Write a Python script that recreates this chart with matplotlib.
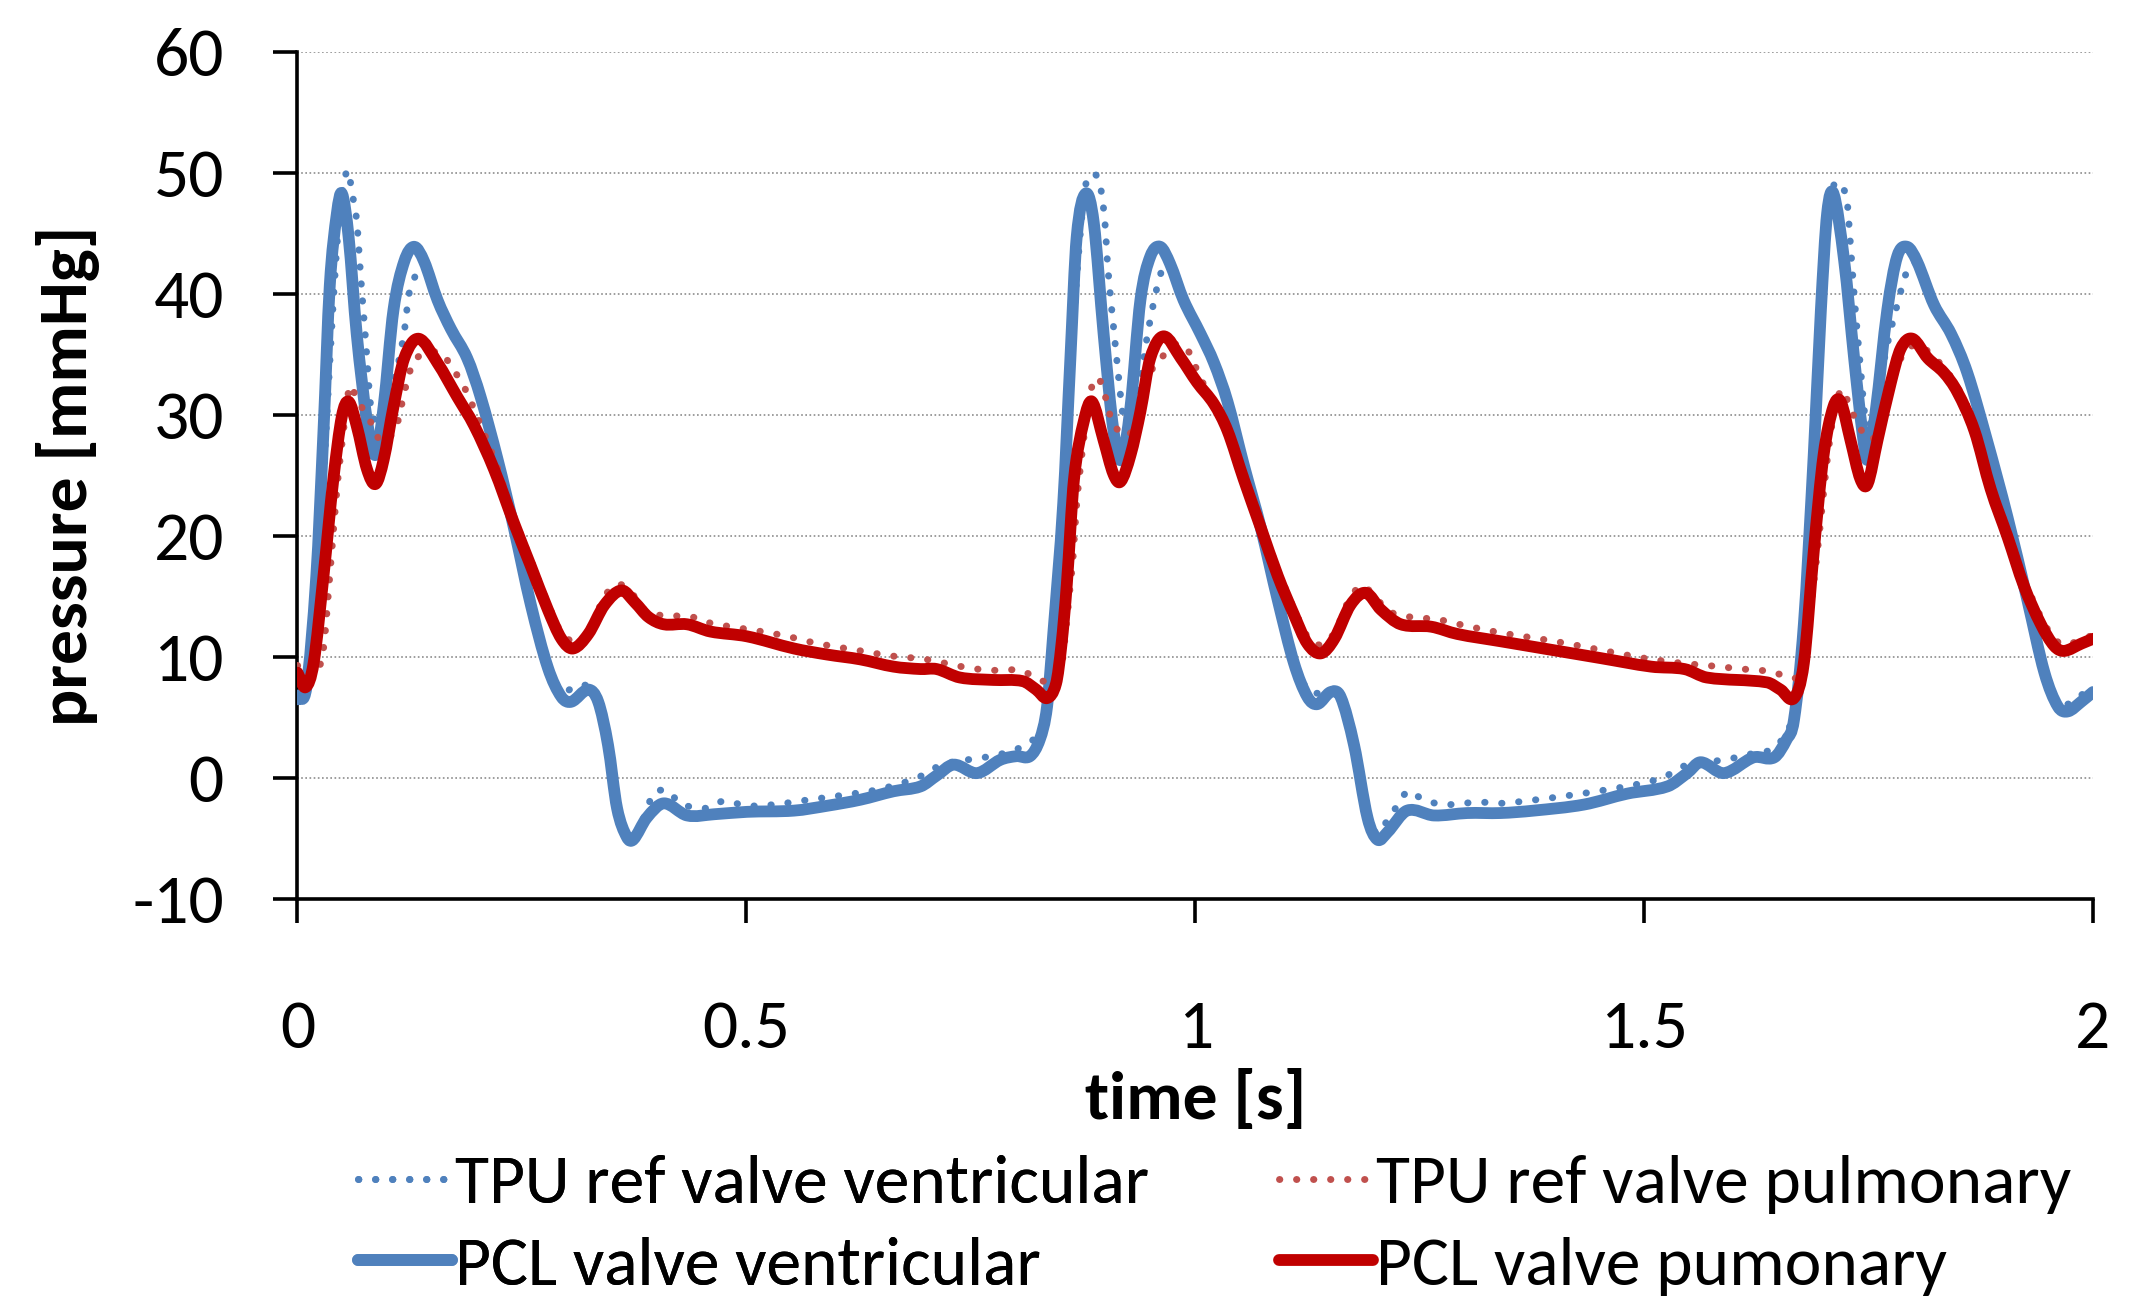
import matplotlib
matplotlib.use("Agg")
import matplotlib.pyplot as plt
from matplotlib import font_manager
from matplotlib.path import Path
from matplotlib.patches import PathPatch
from matplotlib.lines import Line2D

# pick a narrow, Calibri-like face if there is one
available = {f.name for f in font_manager.fontManager.ttflist}
for fam in ["Carlito", "Liberation Sans Narrow", "Lato"]:
    if fam in available:
        font = fam
        break
else:
    font = "DejaVu Sans"
plt.rcParams["font.family"] = [font, "DejaVu Sans"]
plt.rcParams["axes.unicode_minus"] = False

# PCL valve ventricular (blue solid)
t_pcl_v = [0.000, 0.010, 0.021, 0.029, 0.036, 0.044, 0.0495, 0.057, 0.066, 0.0775,
           0.087, 0.096, 0.107, 0.119, 0.130, 0.141, 0.156, 0.171, 0.189, 0.204,
           0.223, 0.241, 0.260, 0.279, 0.294, 0.305, 0.324, 0.335, 0.346, 0.356,
           0.367, 0.374, 0.389, 0.408, 0.434, 0.464, 0.501, 0.553, 0.590, 0.627,
           0.664, 0.694, 0.712, 0.731, 0.757, 0.783, 0.801, 0.816, 0.827, 0.835,
           0.842, 0.853, 0.861, 0.868, 0.878, 0.887, 0.898, 0.909, 0.918, 0.928,
           0.939, 0.950, 0.961, 0.972, 0.987, 1.006, 1.021, 1.036, 1.054, 1.073,
           1.092, 1.110, 1.125, 1.136, 1.151, 1.162, 1.177, 1.192, 1.203, 1.214,
           1.236, 1.266, 1.303, 1.340, 1.377, 1.433, 1.481, 1.526, 1.548, 1.563,
           1.589, 1.622, 1.645, 1.659, 1.667, 1.678, 1.689, 1.697, 1.704, 1.711,
           1.723, 1.734, 1.743, 1.749, 1.758, 1.771, 1.782, 1.793, 1.804, 1.823,
           1.842, 1.860, 1.882, 1.905, 1.927, 1.946, 1.961, 1.972, 1.987, 2.000]
p_pcl_v = [6.5, 7.5, 16.7, 28.7, 40.7, 46.7, 48.3, 44.7, 36.7, 29.5,
           26.7, 30.7, 38.7, 42.7, 43.9, 42.7, 39.5, 37.1, 34.7, 31.5,
           26.3, 20.7, 14.3, 9.1, 6.7, 6.3, 7.3, 6.3, 2.7, -2.5,
           -4.9, -5.1, -3.3, -2.1, -3.1, -3.0, -2.8, -2.7, -2.3, -1.8,
           -1.1, -0.7, 0.2, 1.1, 0.4, 1.5, 1.8, 1.8, 3.2, 5.9,
           12.0, 22.7, 34.7, 44.7, 48.3, 45.9, 36.7, 28.7, 26.3, 30.7,
           39.5, 43.1, 43.9, 42.5, 39.5, 36.7, 34.3, 31.1, 25.9, 20.7,
           14.7, 9.5, 6.7, 6.1, 7.1, 6.7, 2.7, -3.3, -5.1, -4.5,
           -2.7, -3.1, -2.9, -2.9, -2.7, -2.2, -1.3, -0.7, 0.4, 1.3,
           0.4, 1.7, 1.7, 3.2, 4.8, 12.7, 26.7, 38.7, 46.7, 48.3,
           42.7, 34.7, 28.7, 26.3, 30.3, 38.7, 43.1, 43.9, 42.7, 39.1,
           36.7, 33.5, 27.9, 21.5, 14.7, 8.7, 5.9, 5.5, 6.3, 7.1]

# PCL valve pumonary (red solid)
t_pcl_p = [0.000, 0.009, 0.018, 0.029, 0.040, 0.0495, 0.057, 0.066, 0.0775, 0.087,
           0.096, 0.107, 0.119, 0.135, 0.156, 0.178, 0.197, 0.219, 0.241, 0.260,
           0.279, 0.294, 0.307, 0.324, 0.342, 0.361, 0.376, 0.391, 0.408, 0.434,
           0.460, 0.501, 0.553, 0.590, 0.627, 0.664, 0.694, 0.712, 0.738, 0.775,
           0.808, 0.823, 0.835, 0.845, 0.851, 0.857, 0.865, 0.876, 0.885, 0.898,
           0.909, 0.917, 0.928, 0.939, 0.950, 0.965, 0.984, 1.002, 1.021, 1.036,
           1.054, 1.073, 1.092, 1.110, 1.125, 1.140, 1.155, 1.173, 1.190, 1.207,
           1.229, 1.263, 1.292, 1.340, 1.396, 1.452, 1.508, 1.545, 1.570, 1.637,
           1.652, 1.667, 1.678, 1.689, 1.700, 1.711, 1.719, 1.730, 1.741, 1.749,
           1.760, 1.775, 1.786, 1.799, 1.816, 1.834, 1.849, 1.868, 1.886, 1.905,
           1.923, 1.942, 1.957, 1.968, 1.987, 2.000]
p_pcl_p = [8.7, 7.5, 9.5, 16.7, 24.7, 29.9, 31.1, 29.1, 25.5, 24.3,
           26.3, 30.7, 34.7, 36.3, 34.3, 31.5, 29.1, 25.5, 21.1, 17.5,
           13.9, 11.5, 10.7, 11.9, 14.3, 15.5, 14.5, 13.3, 12.7, 12.7,
           12.1, 11.7, 10.7, 10.2, 9.8, 9.2, 9.0, 9.0, 8.3, 8.1,
           8.0, 7.3, 6.6, 7.8, 11.0, 16.0, 24.7, 29.5, 31.1, 27.9,
           25.1, 24.5, 26.7, 30.3, 34.7, 36.5, 34.7, 32.7, 30.9, 28.7,
           24.7, 20.7, 16.7, 13.5, 11.1, 10.3, 11.5, 14.3, 15.3, 13.9,
           12.7, 12.5, 11.9, 11.3, 10.6, 9.9, 9.2, 9.0, 8.3, 7.9,
           7.3, 6.6, 9.5, 18.7, 26.7, 30.7, 31.1, 27.9, 24.7, 24.3,
           27.9, 32.7, 35.5, 36.3, 34.7, 33.5, 31.9, 28.7, 23.9, 19.9,
           15.9, 12.7, 10.9, 10.5, 11.1, 11.5]

# TPU ref valve ventricular (blue dotted)
t_tpu_v = [0.000, 0.012, 0.022, 0.030, 0.038, 0.045, 0.051, 0.057, 0.060, 0.066,
           0.069, 0.072, 0.075, 0.078, 0.081, 0.085, 0.095, 0.105, 0.113, 0.119,
           0.124, 0.129, 0.138, 0.148, 0.158, 0.171, 0.189, 0.204, 0.223, 0.241,
           0.260, 0.279, 0.294, 0.307, 0.324, 0.335, 0.346, 0.356, 0.367, 0.378,
           0.389, 0.396, 0.413, 0.426, 0.456, 0.475, 0.500, 0.531, 0.570, 0.610,
           0.650, 0.690, 0.715, 0.735, 0.757, 0.785, 0.805, 0.820, 0.830, 0.840,
           0.848, 0.856, 0.864, 0.872, 0.878, 0.884, 0.893, 0.899, 0.903, 0.909,
           0.915, 0.920, 0.928, 0.938, 0.945, 0.950, 0.958, 0.965, 0.975, 0.987,
           1.006, 1.021, 1.036, 1.054, 1.073, 1.092, 1.110, 1.125, 1.136, 1.151,
           1.162, 1.177, 1.192, 1.203, 1.214, 1.225, 1.237, 1.252, 1.275, 1.298,
           1.317, 1.340, 1.380, 1.430, 1.480, 1.520, 1.545, 1.565, 1.590, 1.620,
           1.640, 1.655, 1.665, 1.675, 1.683, 1.691, 1.699, 1.706, 1.713, 1.719,
           1.726, 1.730, 1.735, 1.741, 1.746, 1.752, 1.760, 1.770, 1.782, 1.793,
           1.803, 1.823, 1.842, 1.860, 1.882, 1.905, 1.927, 1.946, 1.961, 1.975,
           1.990, 2.000]
p_tpu_v = [7.0, 8.0, 15.0, 26.0, 37.0, 45.0, 49.0, 50.2, 48.7, 46.1,
           43.0, 39.9, 37.1, 34.1, 31.1, 29.7, 30.0, 32.0, 34.5, 36.9,
           39.9, 41.1, 42.3, 41.5, 39.3, 37.1, 34.5, 31.5, 26.5, 21.0,
           14.5, 9.0, 7.0, 7.5, 7.6, 6.5, 2.9, -2.3, -4.6, -4.5,
           -2.7, -1.3, -1.1, -2.1, -2.5, -1.9, -2.3, -2.2, -1.8, -1.4,
           -0.9, 0.0, 1.0, 1.4, 1.6, 2.0, 2.5, 3.2, 4.5, 8.0,
           15.0, 26.0, 37.0, 45.0, 49.0, 49.9, 49.3, 46.3, 41.9, 37.3,
           32.9, 29.8, 29.5, 32.5, 35.8, 37.9, 40.7, 42.3, 42.3, 39.7,
           36.7, 34.3, 31.3, 26.2, 21.0, 15.0, 9.7, 7.3, 7.0, 7.3,
           7.0, 3.0, -3.0, -4.6, -3.5, -2.3, -1.1, -1.7, -2.2, -2.1,
           -2.0, -2.1, -1.8, -1.3, -0.7, 0.0, 1.0, 1.3, 1.5, 2.0,
           2.3, 3.3, 5.0, 10.0, 20.0, 32.0, 42.0, 47.5, 49.2, 49.0,
           47.7, 44.0, 39.0, 34.0, 30.0, 29.3, 31.5, 35.5, 39.1, 41.9,
           42.5, 39.1, 36.7, 33.5, 28.0, 21.7, 15.0, 9.0, 6.2, 6.2,
           7.0, 7.3]

# TPU ref valve pulmonary (red dotted)
t_tpu_p = [0.000, 0.010, 0.021, 0.029, 0.036, 0.044, 0.050, 0.058, 0.066, 0.081,
           0.088, 0.098, 0.106, 0.112, 0.118, 0.124, 0.130, 0.144, 0.161, 0.172,
           0.183, 0.192, 0.205, 0.222, 0.241, 0.260, 0.279, 0.294, 0.307, 0.318,
           0.330, 0.342, 0.356, 0.370, 0.385, 0.400, 0.420, 0.440, 0.460, 0.500,
           0.540, 0.580, 0.620, 0.660, 0.700, 0.740, 0.770, 0.805, 0.822, 0.832,
           0.845, 0.851, 0.856, 0.860, 0.864, 0.868, 0.875, 0.882, 0.891, 0.900,
           0.907, 0.915, 0.925, 0.935, 0.942, 0.950, 0.960, 0.972, 0.982, 0.994,
           1.002, 1.011, 1.025, 1.040, 1.054, 1.073, 1.092, 1.110, 1.125, 1.140,
           1.155, 1.170, 1.185, 1.200, 1.215, 1.240, 1.270, 1.300, 1.340, 1.400,
           1.450, 1.500, 1.540, 1.570, 1.610, 1.640, 1.660, 1.672, 1.680, 1.688,
           1.695, 1.702, 1.710, 1.720, 1.730, 1.740, 1.750, 1.760, 1.770, 1.780,
           1.790, 1.805, 1.820, 1.835, 1.850, 1.868, 1.886, 1.905, 1.923, 1.942,
           1.957, 1.970, 1.985, 2.000]
p_tpu_p = [9.3, 8.5, 8.7, 10.7, 16.7, 23.9, 27.9, 32.3, 31.3, 29.5,
           28.3, 27.8, 28.5, 29.5, 31.5, 33.3, 34.5, 35.1, 35.1, 33.9,
           32.7, 31.3, 29.0, 25.8, 21.6, 18.0, 14.4, 12.0, 11.3, 11.5,
           13.0, 15.0, 16.0, 15.5, 14.0, 13.5, 13.4, 13.3, 12.8, 12.3,
           11.8, 11.1, 10.6, 10.1, 9.8, 9.2, 8.9, 8.9, 8.3, 8.0,
           8.5, 9.2, 12.3, 15.3, 18.3, 22.7, 27.5, 31.5, 33.1, 31.5,
           29.5, 28.7, 28.3, 29.5, 31.5, 33.5, 34.5, 35.5, 35.9, 35.1,
           33.7, 32.3, 30.5, 27.8, 25.3, 21.2, 17.2, 14.0, 11.7, 11.0,
           12.0, 14.5, 15.9, 15.0, 13.8, 13.3, 13.1, 12.6, 12.0, 11.3,
           10.6, 9.9, 9.5, 9.3, 9.0, 8.8, 8.4, 8.5, 11.0, 15.5,
           20.0, 25.0, 29.5, 32.1, 30.5, 29.0, 28.0, 28.5, 31.0, 33.5,
           35.2, 35.8, 35.0, 33.8, 32.2, 29.2, 24.5, 20.5, 16.5, 13.3,
           11.5, 11.0, 11.4, 11.8]

x_ticks = [0, 0.5, 1, 1.5, 2]
x_tick_labels = ["0", "0.5", "1", "1.5", "2"]
y_ticks = [-10, 0, 10, 20, 30, 40, 50, 60]

blue = "#4F81BD"
red = "#C00000"
red_dot = "#C0504D"
dots = (0, (0.05, 2.4))


def smooth_path(t, p):
    # Excel-style smoothed line: cubic Bezier through every data point
    n = len(t)
    slope = []
    for i in range(n):
        a, b = max(i - 1, 0), min(i + 1, n - 1)
        slope.append((p[b] - p[a]) / (t[b] - t[a]))
    verts = [(t[0], p[0])]
    codes = [Path.MOVETO]
    for i in range(n - 1):
        h = (t[i + 1] - t[i]) / 3
        verts += [(t[i] + h, p[i] + slope[i] * h),
                  (t[i + 1] - h, p[i + 1] - slope[i + 1] * h),
                  (t[i + 1], p[i + 1])]
        codes += [Path.CURVE4] * 3
    return Path(verts, codes)


fig = plt.figure(figsize=(21.4, 13), dpi=100)
ax = fig.add_axes([0.139, 0.3085, 0.839, 0.6515])

series = [
    (t_pcl_v, p_pcl_v, blue, 8.5, "-", 3),
    (t_tpu_v, p_tpu_v, blue, 5, dots, 4),
    (t_tpu_p, p_tpu_p, red_dot, 5, dots, 5),
    (t_pcl_p, p_pcl_p, red, 8.5, "-", 6),
]
for t, p, c, lw, ls, z in series:
    patch = PathPatch(smooth_path(t, p), fill=False, edgecolor=c, lw=lw,
                      linestyle=ls, capstyle="round", joinstyle="round", zorder=z)
    ax.add_patch(patch)

ax.set_xlim(0, 2)
ax.set_ylim(-10, 60)
ax.set_xticks(x_ticks)
ax.set_xticklabels(x_tick_labels)
ax.set_yticks(y_ticks)
ax.yaxis.grid(True, linestyle=(0, (1, 1.5)), color="#8c8c8c", lw=1.2)
ax.set_axisbelow(True)

for s in ["top", "right"]:
    ax.spines[s].set_visible(False)
for s in ["left", "bottom"]:
    ax.spines[s].set_linewidth(2.6)
ax.tick_params(axis="both", direction="out", length=17, width=2.6, labelsize=50)
ax.tick_params(axis="y", pad=36)
ax.tick_params(axis="x", pad=56)

ax.set_xlabel("time [s]", fontsize=50, fontweight="bold")
ax.xaxis.set_label_coords(0.5, -0.237)
ax.xaxis.label.set_va("center")
ax.set_ylabel("pressure [mmHg]", fontsize=50, fontweight="bold")
ax.yaxis.set_label_coords(-0.128, 0.5)
ax.yaxis.label.set_va("center")

h_tv = Line2D([], [], color=blue, lw=5, linestyle=dots, dash_capstyle="round")
h_pv = Line2D([], [], color=blue, lw=8.5, solid_capstyle="round")
h_tp = Line2D([], [], color=red_dot, lw=5, linestyle=dots, dash_capstyle="round")
h_pp = Line2D([], [], color=red, lw=8.5, solid_capstyle="round")

leg_kw = dict(frameon=False, fontsize=50, handlelength=1.35, handletextpad=0.05,
              labelspacing=0.32, borderpad=0, borderaxespad=0, loc="center left")
leg1 = fig.legend([h_tv, h_pv], ["TPU ref valve ventricular", "PCL valve ventricular"],
                  bbox_to_anchor=(358 / 2140, 1 - 1225 / 1300), **leg_kw)
fig.add_artist(leg1)
fig.legend([h_tp, h_pp], ["TPU ref valve pulmonary", "PCL valve pumonary"],
           bbox_to_anchor=(1279 / 2140, 1 - 1225 / 1300), **leg_kw)

fig.savefig("out.png", dpi=100)
